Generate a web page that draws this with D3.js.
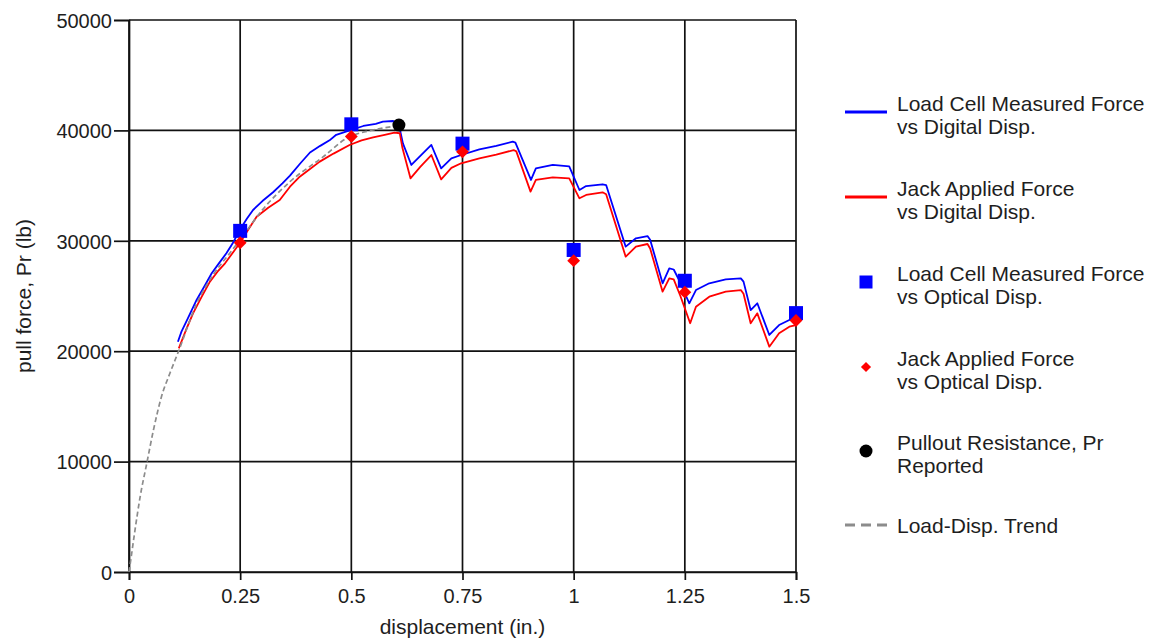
<!DOCTYPE html>
<html>
<head>
<meta charset="utf-8">
<script src="https://cdn.jsdelivr.net/npm/d3@7/dist/d3.min.js"></script>
<style>
  html, body { margin: 0; padding: 0; background: #fff; }
  svg { display: block; font-family: Arial, "Liberation Sans", sans-serif; }
</style>
</head>
<body>
<svg id="chart" width="1156" height="641"></svg>
<script>
// ---------- data ----------
const xTickValues = [0, 0.25, 0.5, 0.75, 1, 1.25, 1.5];
const xTickLabels = ["0", "0.25", "0.5", "0.75", "1", "1.25", "1.5"];
const yTickValues = [0, 10000, 20000, 30000, 40000, 50000];
const yTickLabels = ["0", "10000", "20000", "30000", "40000", "50000"];

// Load Cell Measured Force vs Digital Disp.
const loadCellDigitalX = [0.110,0.118,0.135,0.152,0.170,0.186,0.203,0.219,0.235,0.249,0.265,0.279,0.300,0.324,0.345,0.362,0.385,0.407,0.430,0.451,0.466,0.493,0.527,0.555,0.571,0.594,0.607,0.616,0.635,0.658,0.680,0.702,0.725,0.747,0.788,0.826,0.863,0.869,0.904,0.915,0.953,0.990,1.013,1.028,1.065,1.073,1.117,1.140,1.166,1.172,1.200,1.215,1.225,1.237,1.260,1.275,1.305,1.342,1.376,1.382,1.398,1.413,1.440,1.462,1.485,1.500];
const loadCellDigitalY = [20860,21770,23200,24640,25900,27060,28000,28870,29900,30980,32000,32790,33600,34400,35200,35900,37000,38000,38600,39100,39600,39950,40400,40600,40790,40850,40500,38830,36870,37800,38680,36560,37470,37770,38290,38590,38980,38900,35510,36560,36870,36750,34600,34960,35120,35050,29470,30230,30430,30100,26150,27510,27400,26450,24340,25540,26150,26510,26600,26300,23730,24340,21470,22370,22830,22980];

// Jack Applied Force vs Digital Disp.
const jackDigitalX = [0.112,0.128,0.144,0.163,0.182,0.199,0.216,0.233,0.249,0.268,0.287,0.313,0.339,0.362,0.384,0.407,0.429,0.460,0.496,0.523,0.549,0.575,0.597,0.609,0.615,0.633,0.655,0.680,0.702,0.725,0.747,0.788,0.826,0.865,0.871,0.903,0.915,0.953,0.990,1.013,1.028,1.065,1.073,1.117,1.140,1.166,1.172,1.200,1.215,1.225,1.240,1.262,1.275,1.305,1.342,1.376,1.382,1.398,1.413,1.440,1.462,1.485,1.500];
const jackDigitalY = [20260,21900,23430,24900,26300,27200,27960,28900,29770,31000,32180,33000,33700,34900,35810,36500,37170,37900,38680,39100,39370,39600,39790,39740,38400,35660,36700,37770,35570,36600,37020,37470,37800,38220,38100,34450,35510,35750,35660,33850,34150,34390,34210,28560,29470,29710,29300,25390,26600,26500,25000,22530,24030,24940,25390,25540,25200,22530,23430,20410,21620,22220,22370];

// Optical displacement readings
const opticalX = [0.25, 0.5, 0.75, 1.0, 1.25, 1.5];
const loadCellOpticalY = [30900, 40550, 38800, 29170, 26380, 23450];
const jackOpticalY = [29820, 39450, 38060, 28200, 25350, 22780];

// Pullout resistance reported
const pulloutX = [0.607];
const pulloutY = [40480];

// Load-Disp. trend
const trendX = [0, 0.004, 0.0135, 0.025, 0.040, 0.055, 0.073, 0.092, 0.111, 0.152, 0.189, 0.227, 0.250, 0.300, 0.362, 0.437, 0.489, 0.549, 0.601];
const trendY = [0, 1100, 3800, 6800, 9850, 12860, 15880, 18000, 19950, 24300, 26900, 28900, 30100, 32800, 35350, 37620, 39280, 40040, 40400];

const legendLabels = [
  ["Load Cell Measured Force", "vs Digital Disp."],
  ["Jack Applied Force", "vs Digital Disp."],
  ["Load Cell Measured Force", "vs Optical Disp."],
  ["Jack Applied Force", "vs Optical Disp."],
  ["Pullout Resistance, Pr", "Reported"],
  ["Load-Disp. Trend"]
];

// ---------- layout ----------
const W = 1156, H = 641;
const margin = { left: 129, right: 360, top: 20, bottom: 69 };
const svg = d3.select("#chart");

const x = d3.scaleLinear().domain([0, 1.5]).range([margin.left, W - margin.right]);
const y = d3.scaleLinear().domain([0, 50000]).range([H - margin.bottom, margin.top]);

const textColor = "#1e1e1e";
const gridColor = "#111";

// gridlines
const grid = svg.append("g");
grid.selectAll("line.v").data(xTickValues).join("line")
  .attr("x1", d => x(d)).attr("x2", d => x(d))
  .attr("y1", y(0)).attr("y2", y(50000))
  .attr("stroke", gridColor).attr("stroke-width", 1.7);
grid.selectAll("line.h").data(yTickValues).join("line")
  .attr("x1", x(0)).attr("x2", x(1.5))
  .attr("y1", d => y(d)).attr("y2", d => y(d))
  .attr("stroke", gridColor).attr("stroke-width", 1.7);

// axes
const xAxis = d3.axisBottom(x).tickValues(xTickValues)
  .tickFormat((d, i) => xTickLabels[i]).tickSizeOuter(0).tickSize(8).tickPadding(9);
const yAxis = d3.axisLeft(y).tickValues(yTickValues)
  .tickFormat((d, i) => yTickLabels[i]).tickSizeOuter(0).tickSize(15).tickPadding(2);

const gx = svg.append("g").attr("transform", `translate(0,${y(0)})`).call(xAxis);
const gy = svg.append("g").attr("transform", `translate(${x(0)},0)`).call(yAxis);
[gx, gy].forEach(g => {
  g.select(".domain").attr("stroke", gridColor).attr("stroke-width", 1.7);
  g.selectAll(".tick line").attr("stroke", gridColor).attr("stroke-width", 1.7);
  g.selectAll(".tick text").attr("fill", textColor)
    .style("font-size", "20px").style("font-family", "Arial, 'Liberation Sans', sans-serif");
});
gy.selectAll(".tick text").attr("dy", "0.36em");

// axis titles
svg.append("text")
  .attr("x", (x(0) + x(1.5)) / 2).attr("y", 634)
  .attr("text-anchor", "middle").attr("fill", textColor)
  .style("font-size", "21px").text("displacement (in.)");
svg.append("text")
  .attr("transform", `translate(31,${(y(0) + y(50000)) / 2}) rotate(-90)`)
  .attr("text-anchor", "middle").attr("fill", textColor)
  .style("font-size", "21px").text("pull force, Pr (lb)");

// lines
const lineGen = d3.line().x(d => x(d[0])).y(d => y(d[1]));
const blueData = loadCellDigitalX.map((v, i) => [v, loadCellDigitalY[i]]);
const redData = jackDigitalX.map((v, i) => [v, jackDigitalY[i]]);
const trendData = trendX.map((v, i) => [v, trendY[i]]);

svg.append("path").datum(blueData).attr("d", lineGen)
  .attr("fill", "none").attr("stroke", "#0000ff").attr("stroke-width", 1.8).attr("stroke-linejoin", "round");
svg.append("path").datum(redData).attr("d", lineGen)
  .attr("fill", "none").attr("stroke", "#ff0000").attr("stroke-width", 1.8).attr("stroke-linejoin", "round");
svg.append("path").datum(trendData).attr("d", d3.line().x(d => x(d[0])).y(d => y(d[1])).curve(d3.curveMonotoneX))
  .attr("fill", "none").attr("stroke", "#8c8c8c").attr("stroke-width", 1.7).attr("stroke-dasharray", "5,3");

// markers
const sq = 14;
svg.append("g").selectAll("rect").data(opticalX.map((v, i) => [v, loadCellOpticalY[i]])).join("rect")
  .attr("x", d => x(d[0]) - sq / 2).attr("y", d => y(d[1]) - sq / 2)
  .attr("width", sq).attr("height", sq).attr("fill", "#0000ff");
const diamond = d3.symbol().type(d3.symbolDiamond2).size(105);
svg.append("g").selectAll("path").data(opticalX.map((v, i) => [v, jackOpticalY[i]])).join("path")
  .attr("transform", d => `translate(${x(d[0])},${y(d[1])})`)
  .attr("d", diamond).attr("fill", "#ff0000");
svg.append("g").selectAll("circle").data(pulloutX.map((v, i) => [v, pulloutY[i]])).join("circle")
  .attr("cx", d => x(d[0])).attr("cy", d => y(d[1])).attr("r", 6.5).attr("fill", "#000");

// legend
const legendY = [112, 197, 282, 367, 451, 525];
const lg = svg.append("g");
const lx0 = 845, lx1 = 887, lcx = 866, ltx = 897;
legendLabels.forEach((lines, i) => {
  const my = legendY[i];
  if (i === 0 || i === 1) {
    lg.append("line").attr("x1", lx0).attr("x2", lx1).attr("y1", my).attr("y2", my)
      .attr("stroke", i === 0 ? "#0000ff" : "#ff0000").attr("stroke-width", 3);
  } else if (i === 2) {
    lg.append("rect").attr("x", lcx - 6.5).attr("y", my - 6.5).attr("width", 13).attr("height", 13).attr("fill", "#0000ff");
  } else if (i === 3) {
    lg.append("path").attr("transform", `translate(${lcx},${my})`)
      .attr("d", d3.symbol().type(d3.symbolDiamond2).size(65)).attr("fill", "#ff0000");
  } else if (i === 4) {
    lg.append("circle").attr("cx", lcx).attr("cy", my).attr("r", 6.5).attr("fill", "#000");
  } else {
    lg.append("line").attr("x1", lx0).attr("x2", lx1).attr("y1", my).attr("y2", my)
      .attr("stroke", "#8c8c8c").attr("stroke-width", 3).attr("stroke-dasharray", "10,6");
  }
  const t = lg.append("text").attr("fill", textColor).style("font-size", "21px");
  if (lines.length === 2) {
    t.append("tspan").attr("x", ltx).attr("y", my - 1).text(lines[0]);
    t.append("tspan").attr("x", ltx).attr("y", my + 22).text(lines[1]);
  } else {
    t.append("tspan").attr("x", ltx).attr("y", my + 8).text(lines[0]);
  }
});
</script>
</body>
</html>
